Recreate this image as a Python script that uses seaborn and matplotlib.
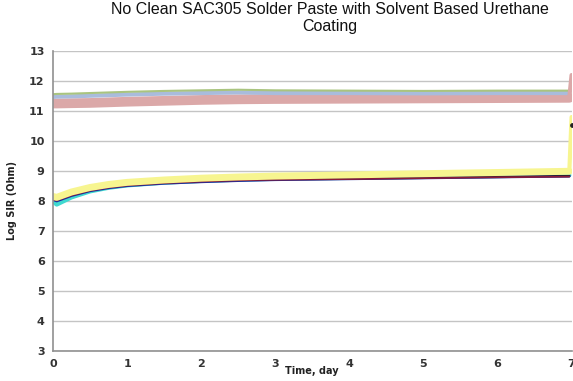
import matplotlib
matplotlib.use("Agg")
import matplotlib.pyplot as plt
import seaborn as sns
import pandas as pd

# time points (days)
days = [0, 0.05, 0.25, 0.5, 0.75, 1, 1.5, 2, 2.5, 3, 4, 5, 6, 6.97]

# upper cluster
green_hi = [11.56, 11.57, 11.58, 11.6, 11.62, 11.64, 11.67, 11.69, 11.71, 11.69, 11.68, 11.67, 11.68, 11.68]
blue_hi = [11.47, 11.48, 11.49, 11.51, 11.53, 11.55, 11.58, 11.6, 11.62, 11.6, 11.6, 11.59, 11.6, 11.6]
pink_hi = [11.25, 11.25, 11.26, 11.27, 11.29, 11.31, 11.34, 11.37, 11.39, 11.4, 11.41, 11.42, 11.43, 11.44]

# lower cluster
yellow_lo = [8.15, 8.12, 8.3, 8.45, 8.55, 8.62, 8.7, 8.76, 8.8, 8.83, 8.87, 8.91, 8.95, 8.99]
cyan_lo = [7.98, 7.88, 8.12, 8.32, 8.44, 8.52, 8.61, 8.67, 8.71, 8.74, 8.77, 8.8, 8.83, 8.86]
navy_lo = [8.05, 8.0, 8.18, 8.34, 8.44, 8.51, 8.59, 8.64, 8.68, 8.71, 8.74, 8.77, 8.8, 8.83]
black_lo = [8.07, 8.03, 8.2, 8.36, 8.46, 8.53, 8.61, 8.66, 8.7, 8.72, 8.75, 8.78, 8.81, 8.84]
red_lo = [8.06, 8.02, 8.19, 8.35, 8.45, 8.52, 8.6, 8.65, 8.69, 8.71, 8.73, 8.76, 8.79, 8.81]

# end-of-test spikes at day 7
spike_day = [6.97, 7.0]
pink_spike = [11.46, 12.2]
yellow_spike = [9.0, 10.8]
black_spike = [8.85, 10.55]

series = [
    ("cyan", cyan_lo, "#3fd9d0", 3.0),
    ("navy", navy_lo, "#1f2a9c", 2.0),
    ("black", black_lo, "#222233", 1.2),
    ("red", red_lo, "#8b1a3a", 1.2),
    ("yellow", yellow_lo, "#f7f590", 5.0),
    ("pink", pink_hi, "#dba8a8", 7.0),
    ("blue", blue_hi, "#a9bcdc", 3.0),
    ("green", green_hi, "#a9c47f", 1.5),
]

sns.set_style("white")
fig = plt.figure(figsize=(5.73, 3.81), dpi=100)
ax = fig.add_axes([0.0925, 0.079, 0.905, 0.787])

for name, vals, col, lw in series:
    df = pd.DataFrame({"day": days, "sir": vals})
    sns.lineplot(data=df, x="day", y="sir", color=col, linewidth=lw, ax=ax)

sns.lineplot(x=spike_day, y=pink_spike, color="#dba8a8", linewidth=3, ax=ax)
sns.lineplot(x=spike_day, y=yellow_spike, color="#f7f590", linewidth=3, ax=ax)
ax.scatter([7.0], [black_spike[1]], color="#222222", s=6, zorder=5, clip_on=False)

ax.set_xlim(0, 7)
ax.set_ylim(3, 13)
ax.set_xticks(range(0, 8))
ax.set_yticks(range(3, 14))
ax.tick_params(length=0, labelsize=8, pad=6, labelcolor="#333333")
for lab in ax.get_xticklabels() + ax.get_yticklabels():
    lab.set_fontweight("bold")
ax.grid(axis="y", color="#c4c4c4", linewidth=1)
ax.set_axisbelow(True)
for s in ["top", "right"]:
    ax.spines[s].set_visible(False)
for s in ["left", "bottom"]:
    ax.spines[s].set_color("#909090")
    ax.spines[s].set_linewidth(1.2)

ax.set_xlabel("Time, day", fontsize=7, fontweight="bold", labelpad=-2, color="#222222")
ax.set_ylabel("Log SIR (Ohm)", fontsize=7, fontweight="bold", labelpad=9, color="#222222")
fig.suptitle("No Clean SAC305 Solder Paste with Solvent Based Urethane\nCoating",
             fontsize=11.5, y=0.995, x=0.575, family="Liberation Sans", color="#111111")

fig.savefig("out.png", dpi=100)
